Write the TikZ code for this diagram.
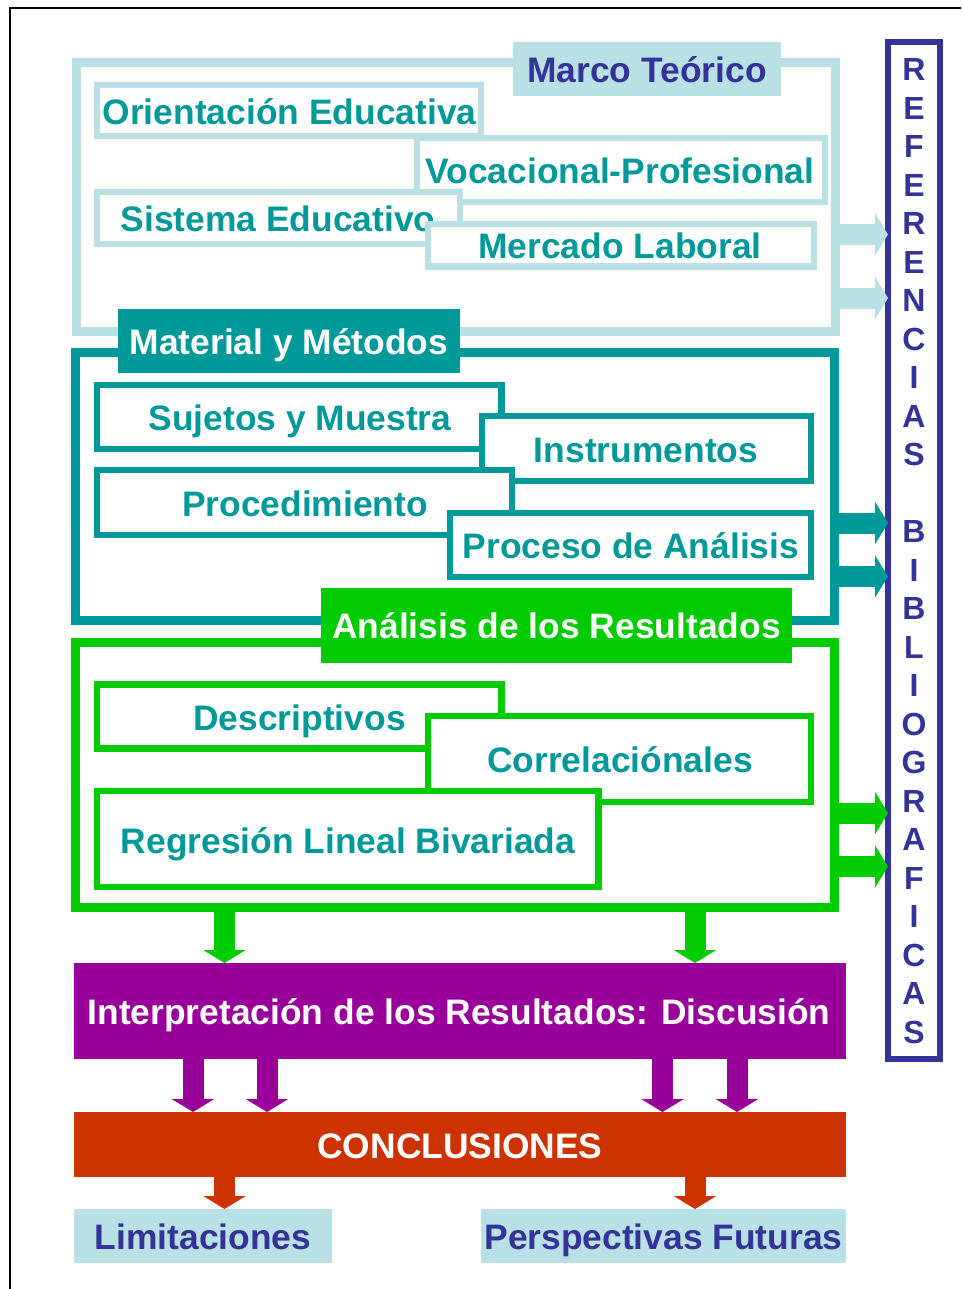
\documentclass[tikz,border=0pt]{standalone}
\usepackage{fontspec}
\setmainfont{Liberation Sans}
\usetikzlibrary{arrows.meta,calc}
\definecolor{lblue}{RGB}{185,224,228}
\definecolor{teal2}{RGB}{0,153,153}
\definecolor{dblue}{RGB}{51,51,153}
\definecolor{grn}{RGB}{0,204,0}
\definecolor{purp}{RGB}{153,0,153}
\definecolor{oran}{RGB}{204,51,0}
\tikzset{
  base/.style={inner sep=0pt, outer sep=0pt},
  bigtxt/.style={base, font=\bfseries\fontsize{35.4}{40}\selectfont, text height=32pt, text depth=7pt},
  tealtxt/.style={bigtxt, text=teal2},
  frame/.style={base, draw, line width=9pt},
  lbframe/.style={frame, draw=lblue},
  tlframe/.style={frame, draw=teal2},
  grframe/.style={frame, draw=grn},
  ibox/.style={base, draw, fill=white, line width=6.5pt},
  lbbox/.style={ibox, draw=lblue},
  tlbox/.style={ibox, draw=teal2},
  grbox/.style={ibox, draw=grn},
  solid box/.style={base, fill=#1},
  rarrow/.style={line width=21pt, draw=#1, -{Triangle[width=42pt 0 0, length=13pt 0 0, fill=#1]}},
}
\begin{document}
\begin{tikzpicture}[x=1pt,y=-1pt]
\useasboundingbox (0,0) rectangle (961,1289);
\coordinate (tl) at (10,8);
\coordinate (tr) at (961,8);
\coordinate (bl) at (10,1289);
\draw[line width=2.5pt] (tr) -- (tl) -- (bl);

% ---------------- Marco Teorico
\node[lbframe, minimum width=759pt, minimum height=268pt] (marco) at (455.5,197) {};
\node[lbbox, minimum width=384pt, minimum height=51pt] (orientB) at (289,110.5) {};
\node[tealtxt] (orientT) at (289.5,112) {Orientación Educativa};
\node[lbbox, minimum width=408pt, minimum height=64pt] (vocB) at (621,170) {};
\node[tealtxt] (vocT) at (620,171) {Vocacional-Profesional};
\node[lbbox, minimum width=363pt, minimum height=52pt] (sisB) at (278.5,218) {};
\node[tealtxt] (sisT) at (278,219) {Sistema Educativo};
\node[lbbox, minimum width=386pt, minimum height=42.5pt] (merB) at (621,245.25) {};
\node[tealtxt] (merT) at (620,246) {Mercado Laboral};
\node[solid box=lblue, minimum width=268pt, minimum height=54pt] (marcoL) at (647,69) {};
\node[bigtxt, text=dblue] (marcoT) at (647,70) {Marco Teórico};

% ---------------- Material y Metodos
\node[tlframe, minimum width=759pt, minimum height=268pt] (metod) at (454.5,486) {};
\node[tlbox, minimum width=404.5pt, minimum height=64pt] (sujB) at (299.25,417) {};
\node[tealtxt] (sujT) at (300,418) {Sujetos y Muestra};
\node[tlbox, minimum width=329pt, minimum height=65pt] (insB) at (646.5,448.5) {};
\node[tealtxt] (insT) at (646,450) {Instrumentos};
\node[tlbox, minimum width=415pt, minimum height=65pt] (proB) at (304.5,502.5) {};
\node[tealtxt] (proT) at (305,504) {Procedimiento};
\node[tlbox, minimum width=361pt, minimum height=64pt] (anaB) at (630.5,545) {};
\node[tealtxt] (anaT) at (631,546) {Proceso de Análisis};
\node[solid box=teal2, minimum width=342pt, minimum height=64pt] (metL) at (289,341) {};
\node[bigtxt, text=white] (metT) at (289,342) {Material y Métodos};

% ---------------- Analisis de los Resultados
\node[grframe, minimum width=759pt, minimum height=265pt] (result) at (454.5,774.5) {};
\node[grbox, minimum width=404.5pt, minimum height=64pt] (desB) at (299.25,716.5) {};
\node[tealtxt] (desT) at (299.5,718) {Descriptivos};
\node[grbox, minimum width=383pt, minimum height=86pt] (corB) at (619.5,759) {};
\node[tealtxt] (corT) at (620,760) {Correlaciónales};
\node[grbox, minimum width=501.5pt, minimum height=96pt] (regB) at (347.75,839) {};
\node[tealtxt] (regT) at (348,841) {Regresión Lineal Bivariada};
\node[solid box=grn, minimum width=471pt, minimum height=75pt] (resL) at (556.5,625.5) {};
\node[bigtxt, text=white] (resT) at (556.5,626) {Análisis de los Resultados};

% ---------------- Referencias
\node[base, draw=dblue, line width=6pt, minimum width=52pt, minimum height=1017pt] (refs) at (914,550.5) {};
\node[base, text=dblue, align=center, font=\bfseries\fontsize{32}{38.5}\selectfont] (refT) at (914,551)
  {R\\E\\F\\E\\R\\E\\N\\C\\I\\A\\S\\[38.5pt]B\\I\\B\\L\\I\\O\\G\\R\\A\\F\\I\\C\\A\\S};

% ---------------- bottom blocks
\node[solid box=purp, minimum width=772pt, minimum height=96pt] (interp) at (460,1011) {};
\node[bigtxt, text=white] (interpT) at (459,1012) {Interpretación de los Resultados: Discusión};
\node[solid box=oran, minimum width=772pt, minimum height=65pt] (concl) at (460,1144.5) {};
\node[bigtxt, text=white] (conclT) at (460,1146) {CONCLUSIONES};
\node[solid box=lblue, minimum width=258pt, minimum height=54pt] (limit) at (203,1236) {};
\node[bigtxt, text=dblue] (limitT) at (203,1237) {Limitaciones};
\node[solid box=lblue, minimum width=365pt, minimum height=54pt] (persp) at (663.5,1236) {};
\node[bigtxt, text=dblue] (perspT) at (663.5,1237) {Perspectivas Futuras};

% ---------------- connectors
\coordinate (h1) at (0,234.5);
\coordinate (h2) at (0,298);
\coordinate (h3) at (0,523);
\coordinate (h4) at (0,576.5);
\coordinate (h5) at (0,813);
\coordinate (h6) at (0,866.5);
\draw[rarrow=lblue] (marco.east |- h1) -- (refs.west |- h1);
\draw[rarrow=lblue] (marco.east |- h2) -- (refs.west |- h2);
\draw[rarrow=teal2] (metod.east |- h3) -- (refs.west |- h3);
\draw[rarrow=teal2] (metod.east |- h4) -- (refs.west |- h4);
\draw[rarrow=grn] (result.east |- h5) -- (refs.west |- h5);
\draw[rarrow=grn] (result.east |- h6) -- (refs.west |- h6);

\coordinate (v1) at (224.5,0);
\coordinate (v2) at (695,0);
\coordinate (v3) at (193,0);
\coordinate (v4) at (267,0);
\coordinate (v5) at (662.5,0);
\coordinate (v6) at (737,0);
\draw[rarrow=grn] (result.south -| v1) -- (interp.north -| v1);
\draw[rarrow=grn] (result.south -| v2) -- (interp.north -| v2);
\draw[rarrow=purp] (interp.south -| v3) -- (concl.north -| v3);
\draw[rarrow=purp] (interp.south -| v4) -- (concl.north -| v4);
\draw[rarrow=purp] (interp.south -| v5) -- (concl.north -| v5);
\draw[rarrow=purp] (interp.south -| v6) -- (concl.north -| v6);
\draw[rarrow=oran] (concl.south -| v1) -- (limit.north -| v1);
\draw[rarrow=oran] (concl.south -| v2) -- (persp.north -| v2);
\end{tikzpicture}
\end{document}
